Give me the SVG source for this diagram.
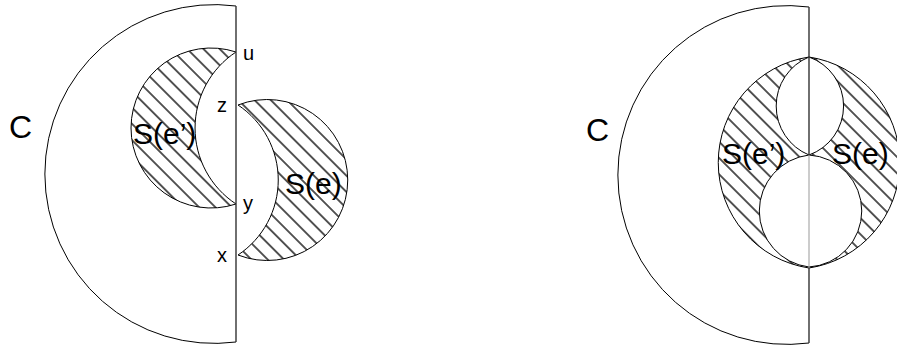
<svg xmlns="http://www.w3.org/2000/svg" width="897" height="347" viewBox="0 0 897 347">
<style>
.ln{fill:none;stroke:#000;stroke-width:1}
.ax{fill:none;stroke:#333;stroke-width:1.4}
.ht{fill:url(#hatch);stroke:#000;stroke-width:1}
.wh{fill:#fff;stroke:#000;stroke-width:1}
.big{font-family:"Liberation Sans",Arial,sans-serif;font-size:30px;fill:#000}
.cc{font-family:"Liberation Sans",Arial,sans-serif;font-size:32px;fill:#000}
.sm{font-family:"Liberation Sans",Arial,sans-serif;font-size:20px;fill:#000}
</style>
<defs>
<pattern id="hatch" patternUnits="userSpaceOnUse" width="11.5" height="11.5" patternTransform="rotate(-45)">
<rect width="11.5" height="11.5" fill="#fff"/>
<line x1="5.75" y1="0" x2="5.75" y2="11.5" stroke="#444" stroke-width="1.8"/>
</pattern>
</defs>
<rect width="897" height="347" fill="#fff"/>
<g id="left">
<g id="C-left"><path class="ln" d="M236,6 A169.4,169.4 0 1 0 236,342"/></g>
<g id="Se-prime-left"><path class="ht" d="M236,52 A80,80 0 1 0 236,204 A91,91 0 0 1 236,52 Z"/></g>
<g id="Se-left"><path class="ht" d="M238,105 A80.5,80.5 0 1 1 238,255 A90,90 0 0 0 238,105 Z"/></g>
<g id="axis-left"><line class="ax" x1="236" y1="6" x2="236" y2="342"/></g>
<text class="cc" x="9" y="138">C</text>
<text class="big" x="133" y="144">S(e’)</text>
<text class="big" x="285" y="194">S(e)</text>
<text class="sm" x="243" y="60">u</text>
<text class="sm" x="217" y="112">z</text>
<text class="sm" x="243" y="210">y</text>
<text class="sm" x="217" y="262">x</text>
</g>
<g id="right">
<g id="C-right"><path class="ln" d="M809,7 A169.4,169.4 0 1 0 809,343"/></g>
<g id="lens"><path class="ht" d="M809,57 A106.7,106.7 0 0 0 809,268 A106.7,106.7 0 0 0 809,57 Z"/></g>
<g id="top-circle"><path class="wh" d="M809,57 A53,53 0 0 0 809,155 A52,52 0 0 0 809,57 Z"/></g>
<g id="bottom-circle"><path class="wh" d="M809,155 A56.4,56.4 0 0 0 809,267 A56.1,56.1 0 0 0 809,155 Z"/></g>
<g id="axis-right"><line class="ax" x1="809" y1="7" x2="809" y2="155"/><line x1="809" y1="155" x2="809" y2="268" stroke="#999" stroke-width="1"/><line class="ax" x1="809" y1="268" x2="809" y2="343"/></g>
<text class="cc" x="586" y="141">C</text>
<text class="big" x="722" y="164">S(e’)</text>
<text class="big" x="832" y="164">S(e)</text>
</g>
</svg>
